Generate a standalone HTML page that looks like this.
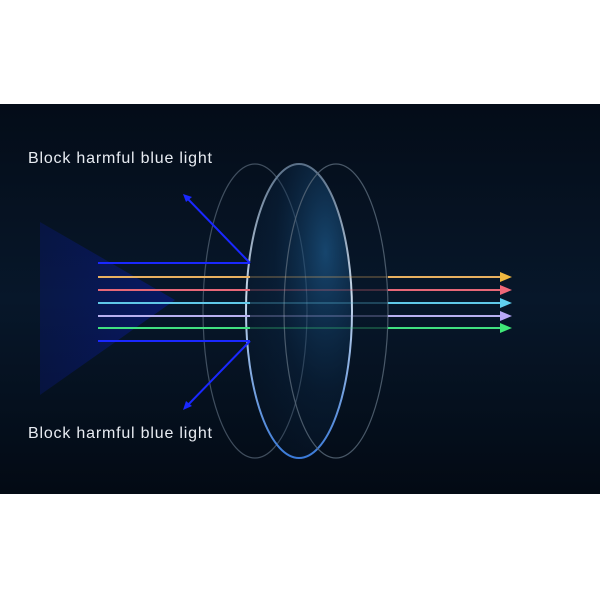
<!DOCTYPE html>
<html><head><style>
html,body{margin:0;padding:0;background:#fff;}
svg{display:block;}
</style></head><body>
<svg width="600" height="600" viewBox="0 0 600 600" xmlns="http://www.w3.org/2000/svg">
<defs>
<linearGradient id="bg" x1="0" y1="0" x2="0" y2="1">
<stop offset="0" stop-color="#040c18"/><stop offset="0.5" stop-color="#07172a"/><stop offset="1" stop-color="#030a14"/>
</linearGradient>
<radialGradient id="lens" cx="0.75" cy="0.3" r="0.8">
<stop offset="0" stop-color="#1d5a8c" stop-opacity="0.7"/><stop offset="0.6" stop-color="#0c2a4a" stop-opacity="0.35"/><stop offset="1" stop-color="#0a2442" stop-opacity="0.15"/>
</radialGradient>
<linearGradient id="tri" x1="0" y1="0" x2="1" y2="0">
<stop offset="0" stop-color="#0a1a8a" stop-opacity="0.3"/><stop offset="1" stop-color="#0a1ab0" stop-opacity="0.45"/>
</linearGradient>
<linearGradient id="rim" x1="0" y1="0" x2="0" y2="1">
<stop offset="0" stop-color="#5a7088"/><stop offset="0.45" stop-color="#c8d8ea"/><stop offset="1" stop-color="#3a7ad8"/>
</linearGradient>
</defs>
<rect x="0" y="104" width="600" height="390" fill="url(#bg)"/>
<polygon points="40,222 175,300 40,395" fill="url(#tri)"/>
<ellipse cx="255" cy="311" rx="52" ry="147" fill="none" stroke="#5a6a7a" stroke-width="1.2" opacity="0.7"/>
<ellipse cx="299" cy="311" rx="53" ry="147" fill="url(#lens)" stroke="url(#rim)" stroke-width="2"/>
<ellipse cx="336" cy="311" rx="52" ry="147" fill="none" stroke="#5a6a7a" stroke-width="1.2" opacity="0.8"/>
<g stroke-width="2">
<line x1="98" y1="263" x2="250" y2="263" stroke="#1a28ff"/>
<line x1="98" y1="341" x2="250" y2="341" stroke="#1a28ff"/>
<line x1="250" y1="263" x2="186" y2="197" stroke="#1a28ff"/>
<line x1="250" y1="341" x2="186" y2="407" stroke="#1a28ff"/>
</g>
<polygon points="183,194 192,197 186,202" fill="#1a28ff"/>
<polygon points="183,410 186,401 192,406" fill="#1a28ff"/>
<g stroke-width="2">
<line x1="98" y1="277" x2="250" y2="277" stroke="#e8b060"/>
<line x1="98" y1="290" x2="250" y2="290" stroke="#e86878"/>
<line x1="98" y1="303" x2="250" y2="303" stroke="#60c8e8"/>
<line x1="98" y1="316" x2="250" y2="316" stroke="#b8b0f0"/>
<line x1="98" y1="328" x2="250" y2="328" stroke="#40e080"/>
</g>
<g stroke-width="1.5" opacity="0.35">
<line x1="250" y1="277" x2="388" y2="277" stroke="#e8b060"/>
<line x1="250" y1="290" x2="388" y2="290" stroke="#e86878"/>
<line x1="250" y1="303" x2="388" y2="303" stroke="#60c8e8"/>
<line x1="250" y1="316" x2="388" y2="316" stroke="#b8b0f0"/>
<line x1="250" y1="328" x2="388" y2="328" stroke="#40e080"/>
</g>
<g stroke-width="2">
<line x1="388" y1="277" x2="502" y2="277" stroke="#e8b060"/>
<line x1="388" y1="290" x2="502" y2="290" stroke="#e86878"/>
<line x1="388" y1="303" x2="502" y2="303" stroke="#60c8e8"/>
<line x1="388" y1="316" x2="502" y2="316" stroke="#b8b0f0"/>
<line x1="388" y1="328" x2="502" y2="328" stroke="#40e080"/>
</g>
<polygon points="500,272 512,277 500,282" fill="#f0b840"/>
<polygon points="500,285 512,290 500,295" fill="#f06878"/>
<polygon points="500,298 512,303 500,308" fill="#60d0f0"/>
<polygon points="500,311 512,316 500,321" fill="#b8a8f8"/>
<polygon points="500,323 512,328 500,333" fill="#40e878"/>
<g font-family="Liberation Sans, sans-serif" font-size="16" fill="#e8ecf2" textLength="184">
<text x="28" y="163" textLength="184">Block harmful blue light</text>
<text x="28" y="438" textLength="184">Block harmful blue light</text>
</g>
</svg>
</body></html>
